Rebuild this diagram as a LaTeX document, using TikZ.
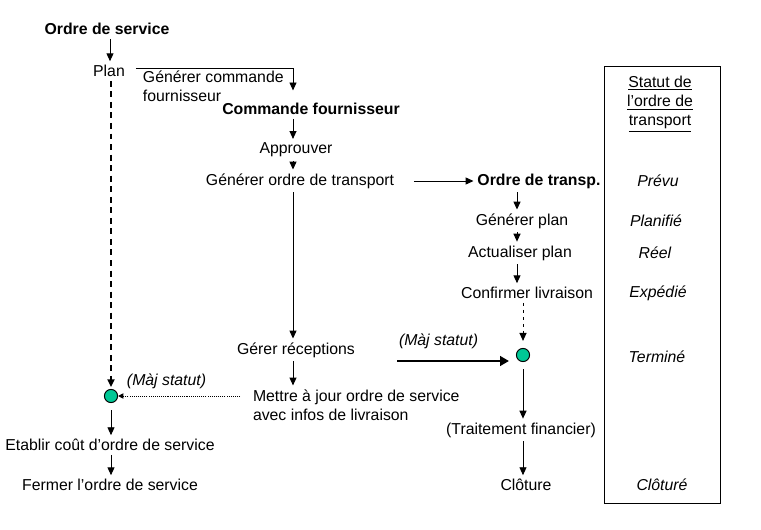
\documentclass[tikz,border=0pt]{standalone}
\usepackage{fontspec}
\setmainfont{Liberation Sans}
\usetikzlibrary{positioning,arrows.meta}
\definecolor{evtgreen}{RGB}{0,200,150}

\begin{document}
\begin{tikzpicture}[x=0.02cm, y=-0.02cm,
  every node/.style={font=\fontsize{9}{11}\selectfont, inner sep=2pt},
  every path/.style={line width=0.55pt},
  hd/.style={font=\fontsize{9}{11}\selectfont\bfseries},
  st/.style={font=\fontsize{9}{11}\selectfont\itshape},
  evt/.style={circle, draw, fill=evtgreen, minimum size=7.5pt, inner sep=0pt},
  flow/.style={-{Triangle[length=4.5pt, width=4pt]}},
  upd/.style={-{Triangle[length=4.5pt, width=4pt]}, dashed, dash pattern=on 2pt off 2pt},
  updthick/.style={-{Triangle[length=4.5pt, width=4pt]}, line width=1.1pt, dash pattern=on 3.4pt off 2.6pt},
  note/.style={-{Triangle[length=3pt, width=3pt]}, dash pattern=on 0.6pt off 0.6pt},
  push/.style={-{Triangle[length=5pt, width=5.5pt]}, line width=1.7pt}]

\useasboundingbox (0,0) rectangle (761,530);

% columns of the arrows
\coordinate (cA) at (110,0);
\coordinate (cB) at (293,0);
\coordinate (cC) at (517,0);
\coordinate (cD) at (523,0);

% order of service
\node[hd] (osv) at (107,29) {Ordre de service};
\node (plan) at (109,71) {Plan};
\node[evt] (dotL) at (111,396) {};
\node[st, anchor=west] (majL) at (123,381) {(Màj statut)};
\node (etab) at (110,445) {Etablir coût d'ordre de service};
\node (ferm) at (110,485) {Fermer l'ordre de service};

% supplier order
\node[align=left, anchor=north west] (gcf) at (139,67) {Générer commande\\fournisseur};
\node[hd] (cmd) at (311,109) {Commande fournisseur};
\node (appr) at (296,150) {Approuver};
\node (got) at (300,181) {Générer ordre de transport};
\node (grec) at (296,350) {Gérer réceptions};
\node[align=left, anchor=west] (maj) at (249,405) {Mettre à jour ordre de service\\avec infos de livraison};

% transport order
\node[hd] (ot) at (539,181) {Ordre de transp.};
\node (gpl) at (522,221) {Générer plan};
\node (apl) at (520,253) {Actualiser plan};
\node (cliv) at (527,293) {Confirmer livraison};
\node[evt] (dotR) at (523,355) {};
\node[st, anchor=west] (majR) at (395,341) {(Màj statut)};
\coordinate (majStart) at (397,361);
\node (trf) at (521,430) {(Traitement financier)};
\node (clo) at (526,485) {Clôture};

% status column
\draw (604,66) rectangle (720,503);
\node[align=center] (sthead) at (660,104) {\underline{Statut de}\\\underline{l'ordre de}\\\underline{transport}};
\node[st] (s1) at (658,181) {Prévu};
\node[st] (s2) at (656,221) {Planifié};
\node[st] (s3) at (655,253) {Réel};
\node[st] (s4) at (658,293) {Expédié};
\node[st] (s5) at (657,357) {Terminé};
\node[st] (s6) at (662,485) {Clôturé};

\draw[flow] (osv.south -| cA) -- (plan.north -| cA);
\draw[flow, shorten <=4pt] ([yshift=1.5pt]plan.east) -| ([yshift=5pt]cmd.north -| cB);
\draw[flow] (cmd.south -| cB) -- (appr.north -| cB);
\draw[flow] (appr.south -| cB) -- (got.north -| cB);
\draw[flow] (got.south -| cB) -- (grec.north -| cB);
\draw[flow] (grec.south -| cB) -- (maj.north -| cB);
\draw[flow, shorten <=9pt] (got.east) -- (ot.west);
\draw[flow] (ot.south -| cC) -- (gpl.north -| cC);
\draw[flow] (gpl.south -| cC) -- (apl.north -| cC);
\draw[flow] (apl.south -| cC) -- (cliv.north -| cC);
\draw[upd, shorten >=4pt] (cliv.south -| cD) -- (dotR.north);
\draw[push, shorten >=4pt] (majStart) -- (majStart -| dotR.west);
\draw[flow, shorten <=4pt] (dotR.south) -- (trf.north -| dotR);
\draw[flow] (trf.south -| dotR) -- (clo.north -| dotR);
\draw[updthick, shorten >=1pt] (plan.south -| dotL) -- (dotL.north);
\draw[note, shorten <=5pt] (dotL -| maj.west) -- (dotL.east);
\draw[flow, shorten <=4pt] (dotL.south) -- (etab.north -| dotL);
\draw[flow] (etab.south -| dotL) -- (ferm.north -| dotL);
\end{tikzpicture}
\end{document}
